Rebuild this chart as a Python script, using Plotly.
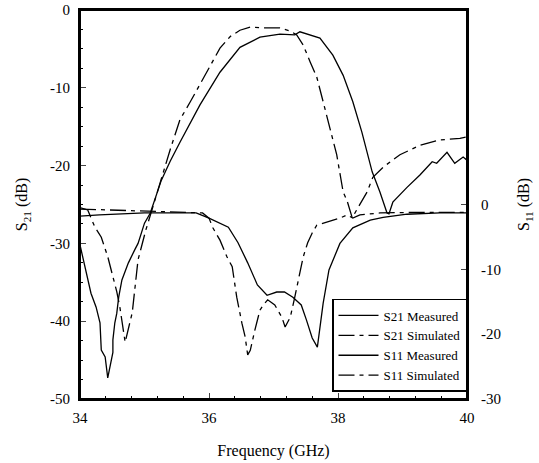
import plotly.graph_objects as go

# S21 measured (left axis)
s21_meas_f = [34.0, 34.08, 34.17, 34.25, 34.31, 34.33, 34.39, 34.43, 34.51, 34.51, 34.54, 34.57,
              34.6, 34.65, 34.75, 34.85, 34.9, 35.0, 35.09, 35.26, 35.4, 35.55, 35.86, 36.17,
              36.48, 36.79, 37.1, 37.33, 37.41, 37.72, 37.92, 38.08, 38.23, 38.37, 38.53,
              38.65, 38.76, 38.79, 38.85, 39.07, 39.27, 39.46, 39.53, 39.69, 39.81, 39.94, 40.0]
s21_meas_db = [-30.2, -33.0, -36.4, -38.2, -40.2, -43.7, -44.6, -47.3, -44.0, -42.4, -40.2, -39.0,
               -36.9, -34.7, -32.5, -30.8, -30.0, -27.4, -26.1, -21.9, -19.4, -17.0, -12.2, -8.0,
               -4.8, -3.5, -3.1, -3.2, -2.8, -3.6, -5.8, -8.4, -11.8, -15.7, -20.8,
               -23.4, -26.1, -26.2, -24.7, -22.8, -21.2, -19.5, -19.7, -18.3, -19.7, -18.9, -19.3]

# S21 simulated (left axis)
s21_sim_f = [34.0, 34.12, 34.23, 34.33, 34.43, 34.5, 34.54, 34.57, 34.62, 34.65, 34.7, 34.81,
             34.85, 34.9, 35.02, 35.1, 35.25, 35.4, 35.55, 35.71, 35.86, 36.02, 36.17, 36.33,
             36.48, 36.64, 36.84, 37.1, 37.26, 37.36, 37.46, 37.57, 37.67, 37.77, 37.88, 37.98,
             38.08, 38.14, 38.22, 38.34, 38.45, 38.54, 38.7, 38.96, 39.27, 39.58, 39.89, 40.0]
s21_sim_db = [-25.4, -25.7, -27.9, -29.2, -31.7, -33.8, -35.1, -36.2, -38.3, -40.2, -42.7, -38.9,
              -35.6, -32.1, -28.3, -26.2, -22.0, -17.9, -14.1, -11.8, -9.6, -7.1, -4.9, -3.4,
              -2.6, -2.2, -2.3, -2.3, -2.7, -3.2, -4.5, -6.7, -8.6, -11.8, -15.2, -18.6,
              -23.4, -24.5, -26.7, -25.0, -23.4, -21.5, -20.2, -18.6, -17.4, -16.7, -16.5, -16.3]

# S11 measured (right axis)
s11_meas_f = [34.0, 34.3, 35.0, 35.8, 36.0, 36.3, 36.45, 36.6, 36.75, 36.9, 37.05, 37.17,
              37.3, 37.43, 37.51, 37.6, 37.68, 37.77, 37.86, 38.03, 38.23, 38.5, 38.7, 39.07,
              39.58, 40.0]
s11_meas_db = [-1.8, -1.6, -1.3, -1.3, -2.1, -3.5, -5.9, -9.0, -12.4, -14.0, -13.5, -13.5,
               -14.3, -15.5, -17.8, -20.6, -22.0, -15.2, -10.1, -6.0, -3.6, -2.4, -2.0, -1.5,
               -1.3, -1.3]

# S11 simulated (right axis)
s11_sim_f = [34.0, 34.8, 35.5, 35.9, 36.0, 36.06, 36.17, 36.28, 36.36, 36.4, 36.43, 36.51,
             36.56, 36.6, 36.64, 36.71, 36.79, 36.84, 36.91, 37.02, 37.13, 37.18, 37.26, 37.33,
             37.41, 37.46, 37.53, 37.6, 37.67, 37.83, 38.03, 38.14, 38.23, 38.34, 38.65, 39.3,
             40.0]
s11_sim_db = [-0.7, -1.0, -1.2, -1.3, -2.1, -3.6, -5.5, -8.1, -9.6, -12.1, -14.3, -18.3,
              -20.4, -23.2, -22.5, -19.4, -16.3, -15.5, -14.7, -15.5, -17.4, -18.9, -17.4, -14.3,
              -10.6, -8.1, -5.9, -4.4, -3.2, -2.7, -2.1, -1.6, -2.1, -1.6, -1.3, -1.2,
              -1.2]

x_ticks = [34, 36, 38, 40]
x_labels = ["34", "36", "38", "40"]
y_ticks = [0, -10, -20, -30, -40, -50]
y_labels = ["0", "-10", "-20", "-30", "-40", "-50"]
y2_ticks = [0, -10, -20, -30]
y2_labels = ["0", "-10", "-20", "-30"]

FONT = "Liberation Serif"
dash_pat = "16px,5px,4px,5px"

fig = go.Figure()
fig.add_trace(go.Scatter(x=s21_meas_f, y=s21_meas_db, mode="lines", name="S21 Measured",
                         line=dict(color="black", width=1.3)))
fig.add_trace(go.Scatter(x=s21_sim_f, y=s21_sim_db, mode="lines", name="S21 Simulated",
                         line=dict(color="black", width=1.3, dash=dash_pat)))
fig.add_trace(go.Scatter(x=s11_meas_f, y=s11_meas_db, mode="lines", name="S11 Measured",
                         yaxis="y2", line=dict(color="black", width=1.3)))
fig.add_trace(go.Scatter(x=s11_sim_f, y=s11_sim_db, mode="lines", name="S11 Simulated",
                         yaxis="y2", line=dict(color="black", width=1.3, dash=dash_pat)))

fig.update_layout(
    width=539, height=463,
    margin=dict(l=80, r=72, t=10, b=64),
    paper_bgcolor="white", plot_bgcolor="white",
    font=dict(family=FONT, color="black", size=15),
    showlegend=True,
    legend=dict(x=1, xanchor="right", y=0.018, yanchor="bottom",
                bgcolor="white", bordercolor="black", borderwidth=1.5,
                font=dict(family=FONT, size=13), tracegroupgap=0,
                itemwidth=40),
    shapes=[dict(type="rect", xref="paper", yref="paper", x0=0, x1=1, y0=0, y1=1,
                 line=dict(color="black", width=2), layer="above")],
    xaxis=dict(range=[34, 40], tickvals=x_ticks, ticktext=x_labels, ticks="inside", ticklen=6,
               showline=True, linecolor="black", linewidth=2, mirror=True,
               showgrid=False, zeroline=False, ticklabelstandoff=4, automargin=False,
               minor=dict(dtick=0.4, ticks="inside", ticklen=3, tickcolor="black"),
               title=dict(text="Frequency (GHz)", font=dict(size=16), standoff=20),
               tickfont=dict(size=15)),
    yaxis=dict(range=[-50, 0], tickvals=y_ticks, ticktext=y_labels, ticks="inside", ticklen=6,
               showline=True, linecolor="black", linewidth=2, mirror=True,
               showgrid=False, zeroline=False, ticklabelstandoff=5, automargin=False,
               minor=dict(dtick=2.5, ticks="inside", ticklen=3, tickcolor="black"),
               title=dict(text="S<sub>21</sub> (dB)", font=dict(size=16), standoff=18),
               tickfont=dict(size=15)),
    yaxis2=dict(range=[-30, 30], tickvals=y2_ticks, ticktext=y2_labels, ticks="inside", ticklen=6,
                overlaying="y", side="right", showline=True, linecolor="black",
                linewidth=2, showgrid=False, zeroline=False, ticklabelstandoff=9,
                automargin=False,
                title=dict(text="S<sub>11</sub> (dB)", font=dict(size=16), standoff=18),
                tickfont=dict(size=15)),
)

fig.write_html("out.html", config={"displayModeBar": False},
               post_script="document.body.style.margin='0';document.body.style.overflow='hidden';")
